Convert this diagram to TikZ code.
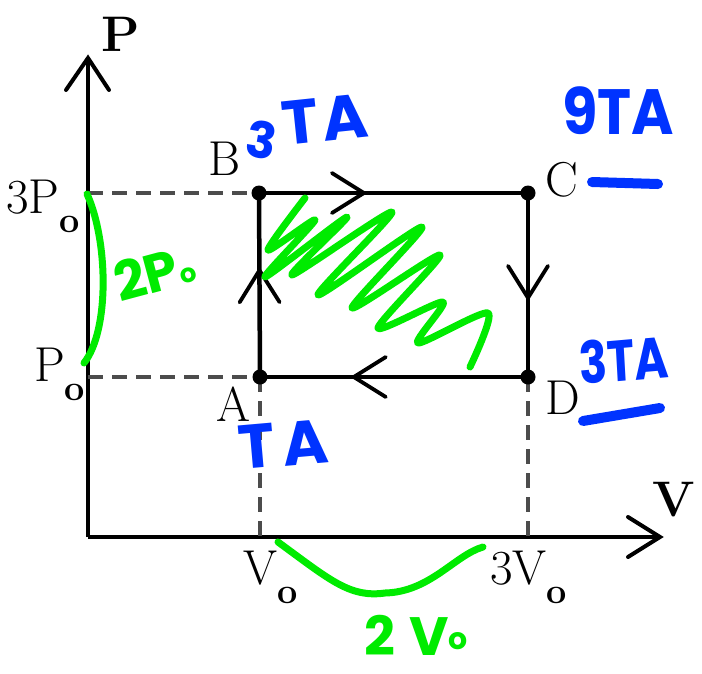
\documentclass[tikz,border=0pt]{standalone}
\usepackage{fontspec}
\newfontfamily\hand{Poppins}
\usetikzlibrary{decorations.markings}
\definecolor{hblue}{RGB}{0,51,255}
\definecolor{hgreen}{RGB}{0,235,0}
\begin{document}
\begin{tikzpicture}[x=1pt,y=-1pt,
  axis/.style={line width=4.5pt},
  edge/.style={line width=4.5pt},
  guide/.style={line width=3.2pt,dash pattern=on 15pt off 9pt,black!70},
  vtip/.style={line width=4pt,line cap=round},
  midarrow/.style={postaction={decorate,decoration={markings,
     mark=at position #1 with {\draw[line width=3.8pt,line cap=round] (-32pt,20pt) -- (0pt,0pt) -- (-32pt,-20pt);}}}},
  corner/.style={circle,fill=black,inner sep=0pt,minimum size=15pt},
  lbl/.style={font=\fontsize{49}{52}\selectfont,inner sep=0pt,anchor=base west},
  axlbl/.style={font=\fontsize{50}{54}\selectfont\bfseries,inner sep=0pt,anchor=base west},
  hb/.style={text=hblue,inner sep=0pt,anchor=base west},
  hg/.style={text=hgreen,inner sep=0pt,anchor=base west},
  bstroke/.style={draw=hblue,line width=10pt,line cap=round},
  gstroke/.style={draw=hgreen,line width=7pt,line cap=round,line join=round}
]
\useasboundingbox (0,0) rectangle (702,673);
\newcommand{\subo}{\raisebox{-19pt}{\fontsize{36}{36}\selectfont\bfseries o}}
% axes
\coordinate (O) at (88,537);
\coordinate (Ytop) at (88,58);
\coordinate (Xend) at (660,537);
\draw[axis] (O) -- (Ytop);
\draw[axis] (O) -- (Xend);
\draw[vtip] (66,90) -- (Ytop) -- (109,90);
\draw[vtip] (628,517) -- (Xend) -- (628,557);
\node[axlbl] (Plab) at (101,51) {P};
\node[axlbl] (Vlab) at (652,516) {V};
% corners
\coordinate (A) at (260,377);
\coordinate (B) at (259,193);
\coordinate (C) at (528,193);
\coordinate (D) at (528,377);
\coordinate (Y3) at (88,193);
\coordinate (Y1) at (88,377);
\coordinate (XA) at (260,537);
\coordinate (XD) at (528,537);
% guides
\draw[guide] (Y3) -- (B);
\draw[guide] (Y1) -- (A);
\draw[guide] (A) -- (XA);
\draw[guide] (D) -- (XD);
% cycle
\draw[edge,midarrow=0.39] (B) -- (C);
\draw[edge,midarrow=0.57] (C) -- (D);
\draw[edge,midarrow=0.65] (D) -- (A);
\draw[edge,midarrow=0.58] (A) -- (B);
\foreach \p in {A,B,C,D} \node[corner] at (\p) {};
% labels
\node[lbl] (Bl) at (208,175) {B};
\node[lbl] (Cl) at (545,196) {C};
\node[lbl] (Dl) at (545,414) {D};
\node[lbl] (Al) at (216,421) {A};
\node[lbl] (P3) at (6,213) {3P\subo};
\node[lbl] (P1) at (34,381) {P\subo};
\node[lbl] (V1) at (243,584) {V\subo};
\node[lbl] (V3) at (490,584) {3V\subo};
% blue handwriting
\node[hb,font=\hand\bfseries\fontsize{50}{54}\selectfont,rotate=-10] (h3) at (243,155) {3};
\node[hb,font=\hand\bfseries\fontsize{62}{66}\selectfont,rotate=6] (hTA) at (284,146) {T\hspace{4pt}A};
\node[hb,font=\hand\bfseries\fontsize{64}{68}\selectfont,xscale=0.9] (h9) at (562,134) {9TA};
\draw[bstroke] (592,182) -- (658,184);
\node[hb,font=\hand\bfseries\fontsize{58}{62}\selectfont,xscale=0.8,rotate=4] (h3b) at (580,385) {3TA};
\draw[bstroke] (583,421) -- (660,408);
\node[hb,font=\hand\bfseries\fontsize{62}{66}\selectfont,rotate=5] (hTAb) at (240,470) {T\hspace{8pt}A};
% green handwriting
\draw[gstroke] (87,194) .. controls (108,240) and (110,330) .. (84,363);
\node[hg,font=\hand\bfseries\fontsize{54}{58}\selectfont,rotate=15] (h2p) at (120,303) {2P\raisebox{2pt}{\fontsize{26}{26}\selectfont o}};
\draw[gstroke] plot[smooth,tension=0.45] coordinates {(305,198) (268,250) (315,220) (265,277) (347,217) (292,275) (392,212) (318,295) (422,227) (352,308) (440,255) (378,328) (443,302) (418,343) (488,313) (470,367)};
\draw[gstroke] (278,542) .. controls (330,580) and (350,598) .. (385,593) .. controls (430,592) and (455,555) .. (483,547);
\node[hg,font=\hand\bfseries\fontsize{54}{58}\selectfont] (h2v) at (364,655) {2\hspace{14pt}V\raisebox{6pt}{\fontsize{30}{30}\selectfont o}};
\end{tikzpicture}
\end{document}
